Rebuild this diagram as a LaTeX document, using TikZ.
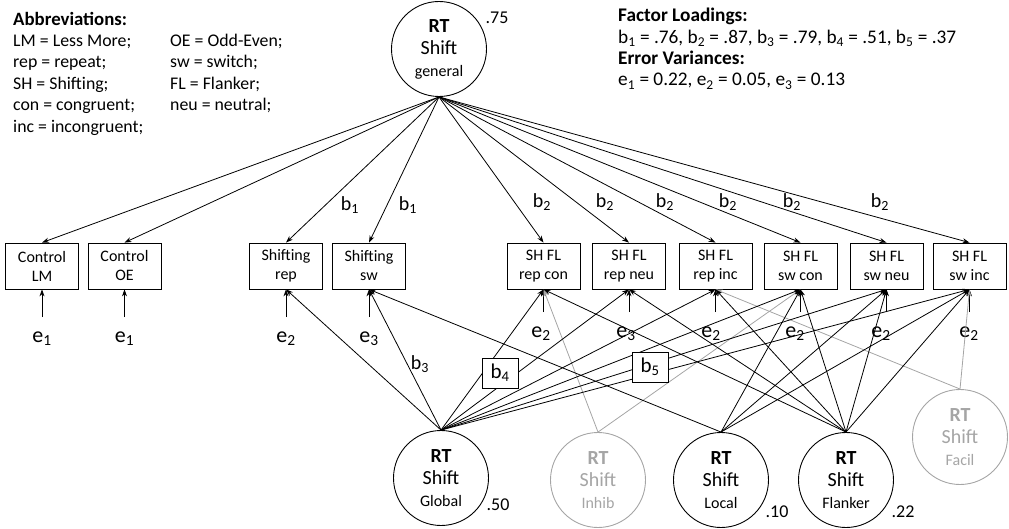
\documentclass[tikz,border=0pt]{standalone}
\usepackage{fontspec}
\setmainfont{Carlito}
\usetikzlibrary{arrows.meta}
\definecolor{lgray}{RGB}{165,165,165}
\begin{document}
\begin{tikzpicture}[x=1pt,y=-1pt,
  lat/.style={circle,draw,line width=0.9pt,minimum size=95pt,inner sep=0pt,align=center,font=\fontsize{20}{22}\selectfont},
  latg/.style={lat,draw=lgray,text=lgray},
  obs/.style={draw,line width=0.8pt,minimum width=73pt,minimum height=46pt,inner sep=0pt,align=center,font=\fontsize{16}{19}\selectfont},
  arr/.style={-{Stealth[length=7pt,width=5pt]},line width=0.8pt},
  garr/.style={arr,draw=lgray},
  elab/.style={font=\fontsize{22}{24}\selectfont,inner sep=0pt},
  blab/.style={font=\fontsize{20}{22}\selectfont,inner sep=0pt},
  bbox/.style={draw,fill=white,line width=0.8pt,font=\fontsize{21}{22}\selectfont,minimum width=36pt,minimum height=30pt,inner sep=0pt},
  num/.style={font=\fontsize{18}{20}\selectfont,inner sep=0pt}
]
\useasboundingbox (0,0) rectangle (1009,529);

% text blocks
\node[anchor=north west,inner sep=0pt,font=\fontsize{17.8}{21.4}\selectfont] (abbr) at (13,10) {%
\begin{tabular}{@{}p{157pt}@{}l@{}}
\multicolumn{2}{@{}l}{\fontsize{18.8}{21.4}\selectfont\bfseries Abbreviations:}\\
LM = Less More; & OE = Odd-Even;\\
rep = repeat; & sw = switch;\\
SH = Shifting; & FL = Flanker;\\
con = congruent; & neu = neutral;\\
inc = incongruent; &
\end{tabular}};
\node[anchor=north west,inner sep=0pt,font=\fontsize{19.3}{21.4}\selectfont,align=left] (fl) at (618,8) {%
\textbf{Factor Loadings:}\\
b\textsubscript{1} = .76, b\textsubscript{2} = .87, b\textsubscript{3} = .79, b\textsubscript{4} = .51, b\textsubscript{5} = .37\\
\textbf{Error Variances:}\\
e\textsubscript{1} = 0.22, e\textsubscript{2} = 0.05, e\textsubscript{3} = 0.13};

% latent factors
\node[lat] (gen) at (439,49) {\textbf{RT}\\Shift\\{\fontsize{16}{22}\selectfont general}};
\node[num] (v75) at (497,18) {.75};
\node[lat] (glob) at (441,478) {\textbf{RT}\\Shift\\{\fontsize{16}{22}\selectfont Global}};
\node[latg] (inhib) at (598,480) {\textbf{RT}\\Shift\\{\fontsize{16}{22}\selectfont Inhib}};
\node[lat] (loc) at (721,480) {\textbf{RT}\\Shift\\{\fontsize{16}{22}\selectfont Local}};
\node[lat] (flk) at (846,480) {\textbf{RT}\\Shift\\{\fontsize{16}{22}\selectfont Flanker}};
\node[latg] (fac) at (960,437) {\textbf{RT}\\Shift\\{\fontsize{16}{22}\selectfont Facil}};
\node[num] (v50) at (498,505) {.50};
\node[num] (v10) at (777,512) {.10};
\node[num] (v22) at (903,512) {.22};

% observed
\node[obs] (clm) at (42,266) {Control\\LM};
\node[obs] (coe) at (124.5,266) {Control\\OE};
\node[obs] (srep) at (286,266) {Shifting\\rep};
\node[obs] (ssw) at (369,266) {Shifting\\sw};
\node[obs] (rc) at (543.5,266) {SH FL\\rep con};
\node[obs] (rn) at (629,266) {SH FL\\rep neu};
\node[obs] (ri) at (715.5,266) {SH FL\\rep inc};
\node[obs] (sc) at (800.5,266) {SH FL\\sw con};
\node[obs] (sn) at (886.5,266) {SH FL\\sw neu};
\node[obs] (si) at (969.5,266) {SH FL\\sw inc};

% general loadings
\foreach \b in {clm,coe,srep,ssw,rc,rn,ri,sc,sn,si}
  \draw[arr] (gen.south) -- (\b.north);
\node[blab] (lb1a) at (350,205) {b\textsubscript{1}};
\node[blab] (lb1b) at (408,205) {b\textsubscript{1}};
\node[blab] (lb2a) at (542,202) {b\textsubscript{2}};
\node[blab] (lb2b) at (605,202) {b\textsubscript{2}};
\node[blab] (lb2c) at (665,202) {b\textsubscript{2}};
\node[blab] (lb2d) at (728,202) {b\textsubscript{2}};
\node[blab] (lb2e) at (792,202) {b\textsubscript{2}};
\node[blab] (lb2f) at (880,202) {b\textsubscript{2}};

% errors
\coordinate (ec1) at (42,317);
\coordinate (ec2) at (124.5,317);
\coordinate (ec3) at (286,317);
\coordinate (ec4) at (369,317);
\coordinate (ec5) at (543.5,312);
\coordinate (ec6) at (629,312);
\coordinate (ec7) at (715.5,312);
\coordinate (ec8) at (800.5,312);
\coordinate (ec9) at (886.5,312);
\coordinate (ec10) at (969.5,312);
\foreach \c/\b in {ec1/clm,ec2/coe,ec3/srep,ec4/ssw,ec5/rc,ec6/rn,ec7/ri,ec8/sc,ec9/sn,ec10/si}
  \draw[arr] (\c) -- (\b.south);
\node[elab] (e1a) at (42,339) {e\textsubscript{1}};
\node[elab] (e1b) at (124.5,339) {e\textsubscript{1}};
\node[elab] (e2a) at (286,339) {e\textsubscript{2}};
\node[elab] (e3a) at (369,339) {e\textsubscript{3}};
\node[elab] (e2b) at (541,334) {e\textsubscript{2}};
\node[elab] (e3b) at (626,334) {e\textsubscript{3}};
\node[elab] (e2c) at (711,334) {e\textsubscript{2}};
\node[elab] (e2d) at (795,334) {e\textsubscript{2}};
\node[elab] (e2e) at (881,334) {e\textsubscript{2}};
\node[elab] (e2f) at (969,334) {e\textsubscript{2}};

% gray factors
\foreach \b in {rc,sc}
  \draw[garr] (inhib.north) -- (\b.south);
\foreach \b in {ri,si}
  \draw[garr] (fac.north) -- (\b.south);

% global
\foreach \b in {srep,ssw,rc,rn,ri,sc,sn,si}
  \draw[arr] (glob.north) -- (\b.south);
% local
\foreach \b in {ssw,sc,sn,si}
  \draw[arr] (loc.north) -- (\b.south);
% flanker
\foreach \b in {rc,rn,ri,sc,sn,si}
  \draw[arr] (flk.north) -- (\b.south);

\node[blab] (lb3) at (420,364) {b\textsubscript{3}};
\node[bbox] (b4) at (500,373) {b\textsubscript{4}};
\node[bbox] (b5) at (650,367) {b\textsubscript{5}};
\end{tikzpicture}
\end{document}
